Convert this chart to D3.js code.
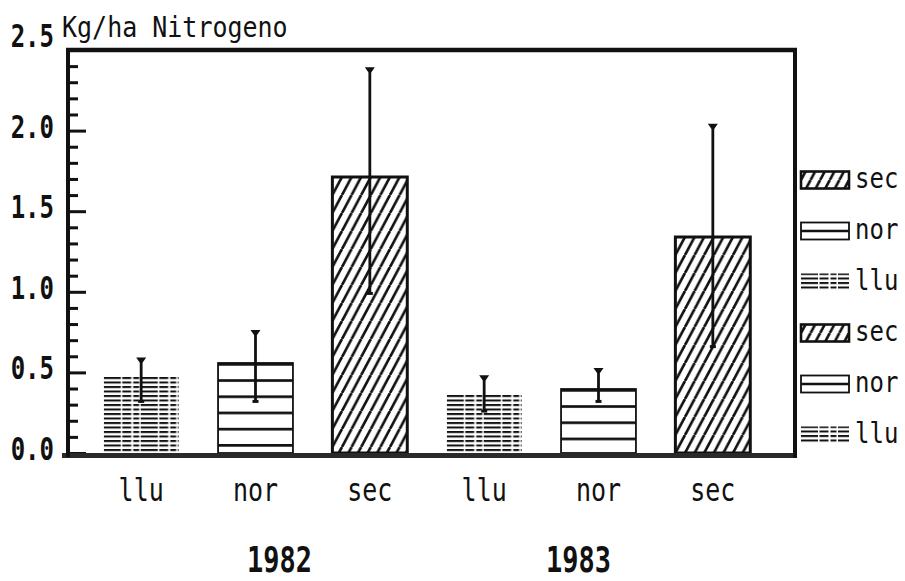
<!DOCTYPE html>
<html>
<head>
<meta charset="utf-8">
<script src="https://cdn.jsdelivr.net/npm/d3@7"></script>
<style>
  body { margin: 0; background: #fff; }
  text { font-family: "DejaVu Sans Mono", monospace; fill: #111; }
</style>
</head>
<body>
<svg id="drawing_region"></svg>
<script>
// categories / series
const categories = ["llu", "nor", "sec"];
const years = ["1982", "1983"];
const mean1982 = [0.47, 0.56, 1.71];
const mean1983 = [0.36, 0.40, 1.34];
const low1982 = [0.32, 0.32, 0.99];
const high1982 = [0.58, 0.75, 2.38];
const low1983 = [0.26, 0.32, 0.66];
const high1983 = [0.47, 0.515, 2.03];
const yTicks = [0.0, 0.5, 1.0, 1.5, 2.0, 2.5];
const yMinorTicks = [0.1, 0.2, 0.3, 0.4, 0.6, 0.7, 0.8, 0.9, 1.1, 1.2, 1.3, 1.4,
                     1.6, 1.7, 1.8, 1.9, 2.1, 2.2, 2.3, 2.4];
const yTitle = "Kg/ha Nitrogeno";

const means = [mean1982, mean1983];
const lows = [low1982, low1983];
const highs = [high1982, high1983];

const data = years.flatMap((yr, i) => categories.map((c, j) => ({
    key: yr + "-" + c, year: yr, cat: c,
    value: means[i][j], lo: lows[i][j], hi: highs[i][j]
})));

const config = {
    width: 905, height: 581,
    plotLeft: 68, plotRight: 795, plotTop: 50, plotBottom: 453
};
const pl = config.plotLeft, pr = config.plotRight, pt = config.plotTop, pb = config.plotBottom;

const svg = d3.select("#drawing_region")
    .attr("width", config.width)
    .attr("height", config.height);

const defs = svg.append("defs");

// diagonal hatch "/" for "sec"
const hw = 9.6, hh = 18;
const hatch = defs.append("pattern")
    .attr("id", "pat-sec")
    .attr("patternUnits", "userSpaceOnUse")
    .attr("width", hw).attr("height", hh);
hatch.append("rect").attr("width", hw).attr("height", hh).attr("fill", "#fff");
hatch.append("path")
    .attr("d", `M0,${hh} L${hw},0 M${-hw},${hh} L0,0 M${hw},${hh} L${2 * hw},0`)
    .attr("stroke", "#111").attr("stroke-width", 2.7);

// wide horizontal lines for "nor"
const norPat = defs.append("pattern")
    .attr("id", "pat-nor")
    .attr("patternUnits", "userSpaceOnUse")
    .attr("width", 20).attr("height", 16.2);
norPat.append("rect").attr("width", 20).attr("height", 16.2).attr("fill", "#fff");
norPat.append("line")
    .attr("x1", 0).attr("x2", 20).attr("y1", 1.3).attr("y2", 1.3)
    .attr("stroke", "#111").attr("stroke-width", 2.8);

// dense broken lines for "llu"
const lluPat = defs.append("pattern")
    .attr("id", "pat-llu")
    .attr("patternUnits", "userSpaceOnUse")
    .attr("width", 37).attr("height", 4.5);
lluPat.append("rect").attr("width", 37).attr("height", 4.5).attr("fill", "#fff");
lluPat.append("line")
    .attr("x1", 0).attr("x2", 37).attr("y1", 1).attr("y2", 1)
    .attr("stroke", "#111").attr("stroke-width", 2)
    .attr("stroke-dasharray", "17,1.5,9,2,6,1.5");

const fills = { llu: "url(#pat-llu)", nor: "url(#pat-nor)", sec: "url(#pat-sec)" };

const xscale = d3.scaleBand()
    .domain(data.map(d => d.key))
    .range([84, 770])
    .paddingInner(0.345)
    .paddingOuter(0.1725);

const yscale = d3.scaleLinear()
    .domain([0, 2.5])
    .range([pb, pt]);

// bars
const bars = svg.append("g").selectAll("g")
    .data(data)
    .join("g")
    .attr("transform", d => `translate(${xscale(d.key)}, ${Math.round(yscale(d.value))})`);

bars.append("rect")
    .attr("width", xscale.bandwidth())
    .attr("height", d => pb - Math.round(yscale(d.value)))
    .attr("fill", d => fills[d.cat])
    .attr("stroke", d => d.cat === "llu" ? "none" : "#111")
    .attr("stroke-width", d => d.cat === "sec" ? 3 : 1.8);

// error bars
const err = svg.append("g").selectAll("g")
    .data(data)
    .join("g")
    .attr("transform", d => `translate(${xscale(d.key) + xscale.bandwidth() / 2}, 0)`);

err.append("line")
    .attr("y1", d => yscale(d.hi))
    .attr("y2", d => yscale(d.lo))
    .attr("stroke", "#111")
    .attr("stroke-width", 2.8);

err.append("path")
    .attr("d", d => `M-5,${yscale(d.hi) - 2} L5,${yscale(d.hi) - 2} L1.5,${yscale(d.hi) + 3} L-1.5,${yscale(d.hi) + 3} Z`)
    .attr("fill", "#111");

err.append("rect")
    .attr("x", -3).attr("width", 6)
    .attr("y", d => yscale(d.lo) - 1.5).attr("height", 3)
    .attr("fill", "#111");

// y axis: minor and major inner ticks
const minorAxis = d3.axisLeft(yscale)
    .tickValues(yMinorTicks)
    .tickSizeInner(-10)
    .tickSizeOuter(0)
    .tickFormat("");

const majorAxis = d3.axisLeft(yscale)
    .tickValues(yTicks)
    .tickSizeInner(-18)
    .tickSizeOuter(0)
    .tickPadding(14)
    .tickFormat(d3.format(".1f"));

const minorGroup = svg.append("g")
    .attr("transform", `translate(${pl}, 0)`)
    .call(minorAxis);
const majorGroup = svg.append("g")
    .attr("transform", `translate(${pl}, 0)`)
    .call(majorAxis);

[minorGroup, majorGroup].forEach(g => {
    g.select(".domain").remove();
    g.selectAll(".tick line").attr("stroke", "#111").attr("stroke-width", 3);
});

majorGroup.selectAll(".tick text")
    .attr("font-family", "DejaVu Sans Mono")
    .attr("font-size", 24)
    .attr("font-weight", "bold")
    .attr("fill", "#111")
    .attr("dy", d => d === 2.5 ? "-0.1em" : "0.2em")
    .attr("transform", "scale(1,1.35)");

// frame
svg.append("rect")
    .attr("x", 62).attr("y", pb).attr("width", 735).attr("height", 5)
    .attr("fill", "#2a2a2a");

svg.append("line")
    .attr("x1", pl - 2).attr("x2", pr + 2).attr("y1", pt).attr("y2", pt)
    .attr("stroke", "#111").attr("stroke-width", 4.5);
svg.append("line")
    .attr("x1", pl).attr("x2", pl).attr("y1", pt - 2).attr("y2", pb + 4)
    .attr("stroke", "#111").attr("stroke-width", 4);
svg.append("line")
    .attr("x1", pr).attr("x2", pr).attr("y1", pt - 2).attr("y2", pb + 5)
    .attr("stroke", "#111").attr("stroke-width", 4);

// axis title
svg.append("text")
    .attr("transform", "translate(62, 37) scale(1,1.1)")
    .attr("font-size", 25)
    .text(yTitle);

// category labels
svg.append("g").selectAll("text")
    .data(data)
    .join("text")
    .attr("transform", d => `translate(${xscale(d.key) + xscale.bandwidth() / 2}, 501) scale(1,1.27)`)
    .attr("text-anchor", "middle")
    .attr("font-size", 25)
    .text(d => d.cat);

// year labels
const yearOffset = { "1982": 24, "1983": -20 };
svg.append("g").selectAll("text")
    .data(years)
    .join("text")
    .attr("transform", d => `translate(${xscale(d + "-nor") + xscale.bandwidth() / 2 + yearOffset[d]}, 572) scale(1,1.3)`)
    .attr("text-anchor", "middle")
    .attr("font-size", 27)
    .attr("font-weight", "bold")
    .text(d => d);

// legend
const legendItems = years.flatMap(yr => categories.slice().reverse().map(c => ({ year: yr, cat: c })));
const legend = svg.append("g").selectAll("g")
    .data(legendItems)
    .join("g")
    .attr("transform", (d, i) => `translate(801, ${180 + i * 51})`);

legend.append("rect")
    .attr("x", 0).attr("y", -8.5)
    .attr("width", 48).attr("height", 17)
    .attr("fill", d => d.cat === "nor" ? "#fff" : fills[d.cat])
    .attr("stroke", d => d.cat === "llu" ? "none" : "#111")
    .attr("stroke-width", d => d.cat === "sec" ? 2.6 : 1.8);

legend.filter(d => d.cat === "nor")
    .append("line")
    .attr("x1", 0).attr("x2", 48).attr("y1", 0).attr("y2", 0)
    .attr("stroke", "#111").attr("stroke-width", 2.6);

legend.append("text")
    .attr("transform", "translate(54, 8) scale(1,1.2)")
    .attr("font-size", 24)
    .text(d => d.cat);
</script>
</body>
</html>
